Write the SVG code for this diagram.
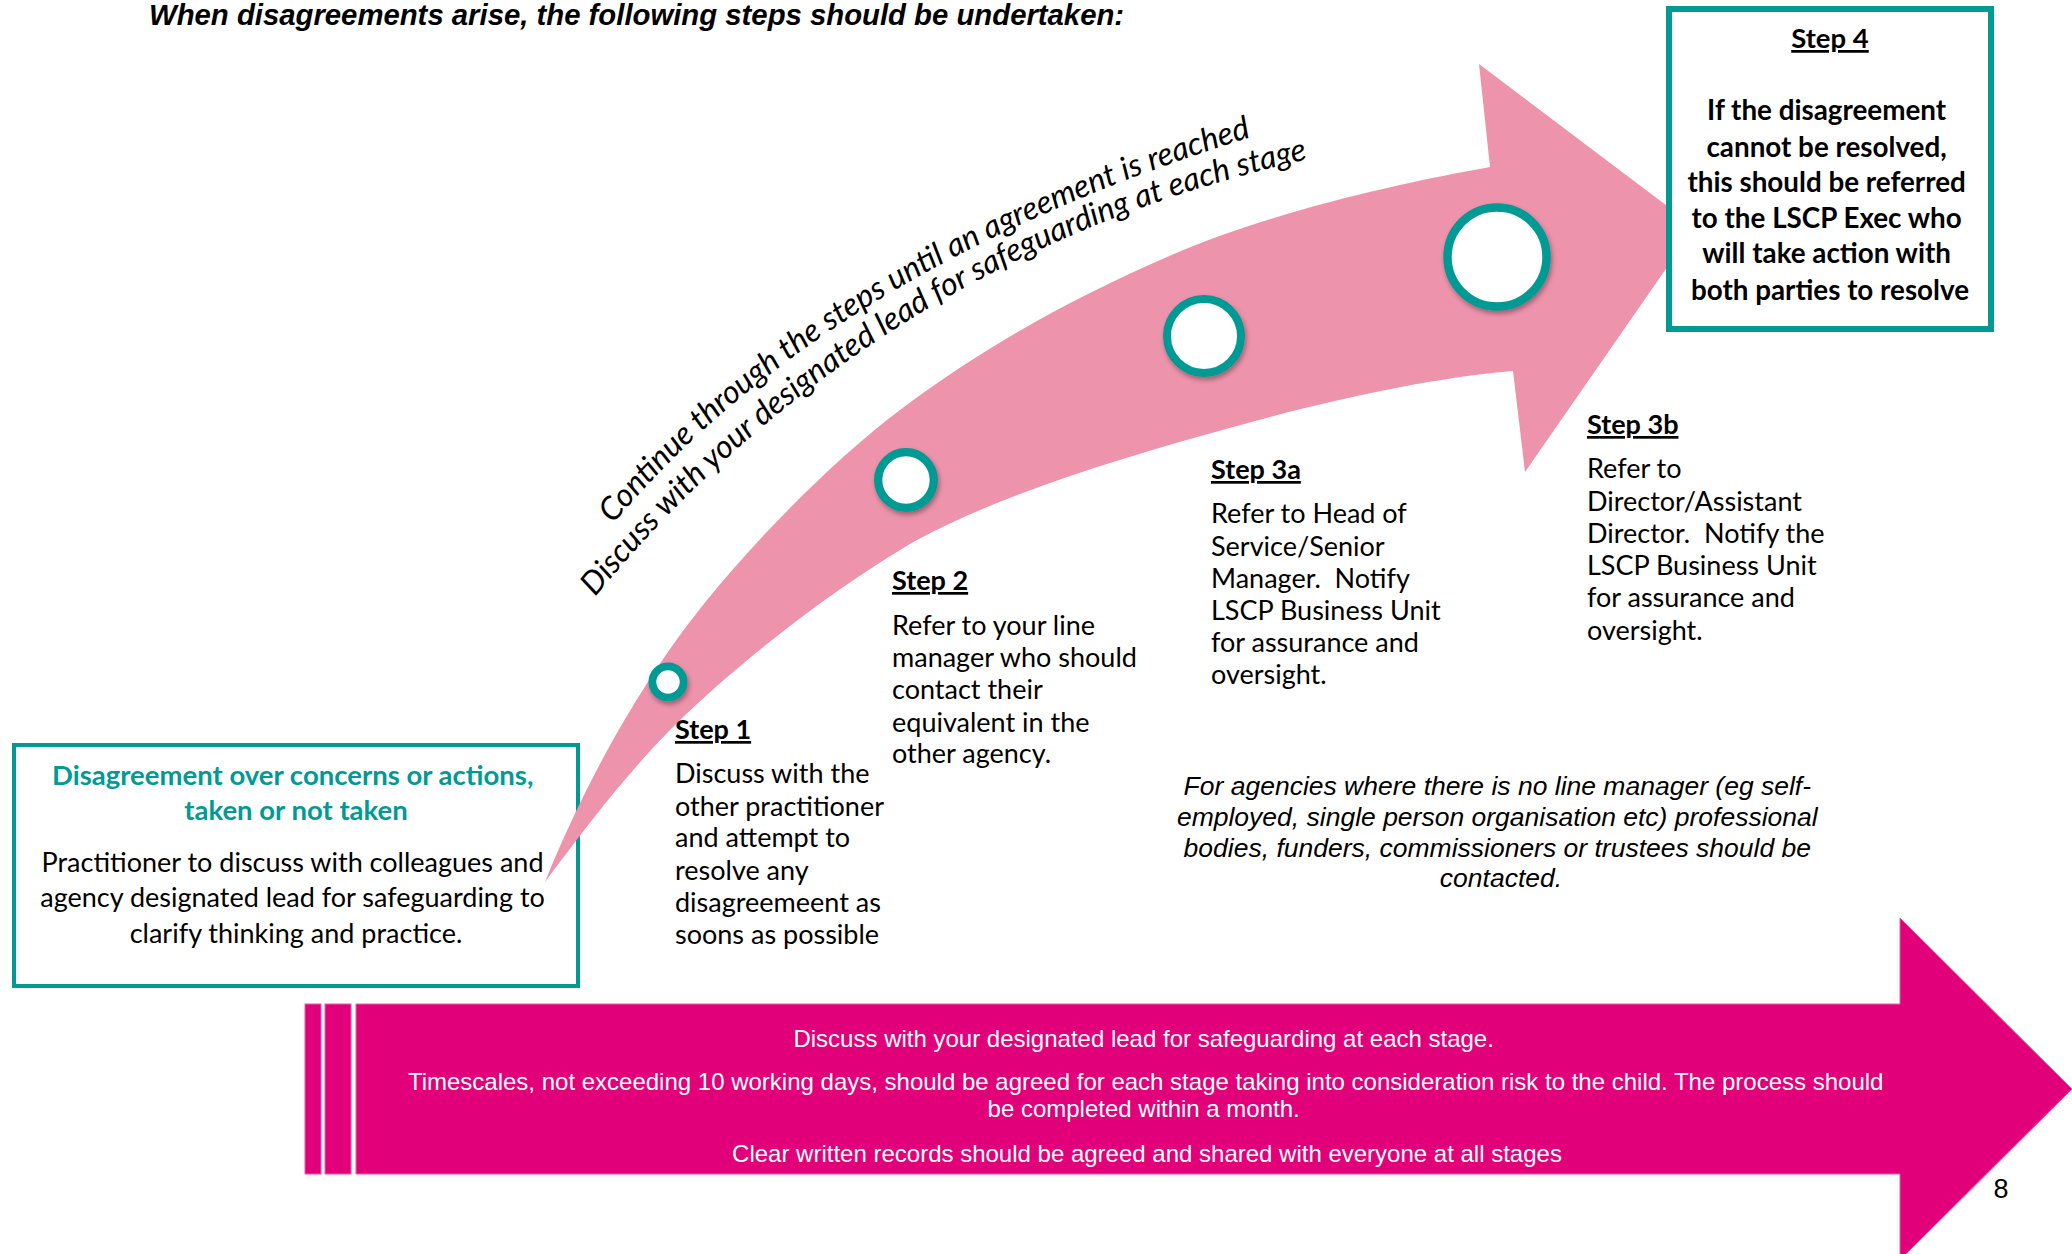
<svg xmlns="http://www.w3.org/2000/svg" width="2072" height="1254" viewBox="0 0 2072 1254">
  <style>
    .cal { font-family: Lato, "Open Sans", "DejaVu Sans", sans-serif; fill: #000; }
    .step { font-size: 27px; }
    .head { font-weight: bold; text-decoration: underline; }
    .bold { font-weight: bold; }
    .teal { fill: #009A94; }
    .arial { font-family: "Liberation Sans", Arial, sans-serif; }
    .banner-text { font-size: 24px; fill: #FFFFFF; }
    .note { font-size: 26.5px; font-style: italic; fill: #000; }
    .arc-text { font-size: 32px; font-style: italic; }
    .box { fill: #FFFFFF; stroke: #009A94; }
    .ring { fill: #FFFFFF; stroke: #009A94; filter: url(#shadow); }
  </style>
  <defs>
    <filter id="shadow" x="-40%" y="-40%" width="180%" height="180%">
      <feDropShadow dx="1.5" dy="3" stdDeviation="2.5" flood-color="#000000" flood-opacity="0.35"/>
    </filter>
    <path id="arc1" d="M613,524 Q829,266 1258,135"/>
    <path id="arc2" d="M595,597 Q880,252 1318,157"/>
  </defs>

  <rect width="2072" height="1254" fill="#FFFFFF"/>

  <!-- heading -->
  <text id="title" class="arial" x="149" y="25" font-size="29.3" font-weight="bold" font-style="italic">When disagreements arise, the following steps should be undertaken:</text>

  <!-- starting point (drawn first so the arrow tail sits over its border) -->
  <g id="node-start">
    <rect class="box" x="14" y="745" width="564" height="241" stroke-width="4"/>
    <text class="cal teal bold" font-size="27.5" text-anchor="middle">
      <tspan x="296" y="785">Disagreement over concerns or actions,</tspan>
      <tspan x="296" y="820">taken or not taken</tspan>
    </text>
    <text class="cal" font-size="27" text-anchor="middle">
      <tspan x="296" y="872">Practitioner to discuss with colleagues and</tspan>
      <tspan x="296" y="907">agency designated lead for safeguarding to</tspan>
      <tspan x="296" y="943">clarify thinking and practice.</tspan>
    </text>
  </g>

  <!-- curved progress arrow with its two curved captions -->
  <g id="connectors">
    <path id="progress-arrow" fill="#EE93AC"
      d="M545,882 C590,770 650,670 707,600 C764,530 840,455 900,410 C990,342 1080,295 1167,257 C1270,212 1400,183 1490,167 L1479,64 L1695,227 L1525,472 L1513,371 C1430,378 1330,400 1233,427 C1120,458 1000,495 917,540 C830,590 730,670 673,727 C625,775 580,835 545,882 Z"/>
    <text class="cal arc-text"><textPath href="#arc1">Continue through the steps until an agreement is reached</textPath></text>
    <text class="cal arc-text"><textPath href="#arc2">Discuss with your designated lead for safeguarding at each stage</textPath></text>
  </g>

  <g id="node-step1">
    <circle class="ring" cx="668" cy="682" r="15.6" stroke-width="7.8"/>
    <text class="cal step head" x="675" y="739">Step 1</text>
    <text class="cal step">
      <tspan x="675" y="783">Discuss with the</tspan>
      <tspan x="675" y="816">other practitioner</tspan>
      <tspan x="675" y="847">and attempt to</tspan>
      <tspan x="675" y="880">resolve any</tspan>
      <tspan x="675" y="912">disagreemeent as</tspan>
      <tspan x="675" y="944">soons as possible</tspan>
    </text>
  </g>

  <g id="node-step2">
    <circle class="ring" cx="906" cy="480" r="27.8" stroke-width="8.3"/>
    <text class="cal step head" x="892" y="590">Step 2</text>
    <text class="cal step">
      <tspan x="892" y="635">Refer to your line</tspan>
      <tspan x="892" y="667">manager who should</tspan>
      <tspan x="892" y="699">contact their</tspan>
      <tspan x="892" y="732">equivalent in the</tspan>
      <tspan x="892" y="763">other agency.</tspan>
    </text>
  </g>

  <g id="node-step3a">
    <circle class="ring" cx="1204" cy="336" r="37" stroke-width="8"/>
    <text class="cal step head" x="1211" y="479">Step 3a</text>
    <text class="cal step" xml:space="preserve"><tspan x="1211" y="523">Refer to Head of</tspan><tspan x="1211" y="556">Service/Senior</tspan><tspan x="1211" y="588">Manager.  Notify</tspan><tspan x="1211" y="620">LSCP Business Unit</tspan><tspan x="1211" y="652">for assurance and</tspan><tspan x="1211" y="684">oversight.</tspan></text>
  </g>

  <g id="node-step3b">
    <circle class="ring" cx="1497" cy="257" r="49.5" stroke-width="8.5"/>
    <text class="cal step head" x="1587" y="434">Step 3b</text>
    <text class="cal step" xml:space="preserve"><tspan x="1587" y="478">Refer to</tspan><tspan x="1587" y="511">Director/Assistant</tspan><tspan x="1587" y="543">Director.  Notify the</tspan><tspan x="1587" y="575">LSCP Business Unit</tspan><tspan x="1587" y="607">for assurance and</tspan><tspan x="1587" y="640">oversight.</tspan></text>
  </g>

  <g id="node-step4">
    <rect class="box" x="1669" y="9" width="322" height="320" stroke-width="6"/>
    <text class="cal head" font-size="27.5" x="1830" y="48" text-anchor="middle">Step 4</text>
    <text class="cal bold" font-size="27.8" text-anchor="middle">
      <tspan x="1830" y="120">If the disagreement</tspan>
      <tspan x="1830" y="157">cannot be resolved,</tspan>
      <tspan x="1830" y="192">this should be referred</tspan>
      <tspan x="1830" y="228">to the LSCP Exec who</tspan>
      <tspan x="1830" y="263">will take action with</tspan>
      <tspan x="1830" y="300">both parties to resolve</tspan>
    </text>
  </g>

  <g id="note">
    <text class="arial note" text-anchor="middle">
      <tspan x="1501" y="795">For agencies where there is no line manager (eg self-</tspan>
      <tspan x="1501" y="826">employed, single person organisation etc) professional</tspan>
      <tspan x="1501" y="857">bodies, funders, commissioners or trustees should be</tspan>
      <tspan x="1501" y="887">contacted.</tspan>
    </text>
  </g>

  <g id="banner">
    <g fill="#E2007A" stroke="#EC5AA4" stroke-width="1">
      <rect x="305" y="1004" width="16" height="170"/>
      <rect x="325" y="1004" width="26" height="170"/>
      <path d="M356,1004 L1900,1004 L1900,918 L2072,1089 L1900,1260 L1900,1174 L356,1174 Z"/>
    </g>
    <text class="arial banner-text" text-anchor="middle">
      <tspan x="1147" y="1047">Discuss with your designated lead for safeguarding at each stage.</tspan>
      <tspan x="1149" y="1090">Timescales, not exceeding 10 working days, should be agreed for each stage taking into consideration risk to the child. The process should</tspan>
      <tspan x="1147" y="1117">be completed within a month.</tspan>
      <tspan x="1147" y="1162">Clear written records should be agreed and shared with everyone at all stages</tspan>
    </text>
  </g>

  <text id="page-number" class="arial" x="2001" y="1198" font-size="27" text-anchor="middle">8</text>
</svg>
